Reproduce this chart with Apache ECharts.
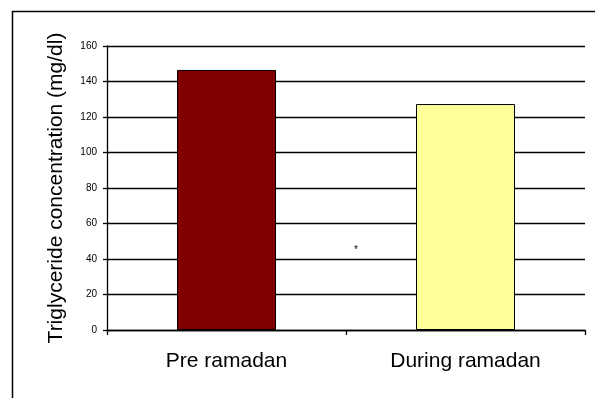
<!DOCTYPE html>
<html>
<head>
<meta charset="utf-8">
<script src="https://cdn.jsdelivr.net/npm/echarts@6/dist/echarts.min.js"></script>
<style>
  html, body { margin: 0; padding: 0; background: #fff; }
  #chart { width: 595px; height: 398px; }
</style>
</head>
<body>
<div id="chart"></div>
<script>
// Triglyceride concentration before and during Ramadan
const categories = ['Pre ramadan', 'During ramadan'];
const triglyceride = [146.5, 127.3];
const barColors = ['#800000', '#FFFF99'];
const yTicks = { min: 0, max: 160, interval: 20 };

const chart = echarts.init(document.getElementById('chart'));
const FONT = '"Liberation Sans", Arial, sans-serif';

chart.setOption({
  animation: false,
  backgroundColor: '#fff',
  grid: { left: 107, top: 46, right: 10, bottom: 68, containLabel: false },
  graphic: [
    {
      type: 'rect',
      shape: { x: 12.5, y: 11.5, width: 620, height: 420 },
      style: { fill: 'none', stroke: '#000', lineWidth: 1.5 },
      silent: true
    },
    {
      type: 'text',
      left: 354,
      top: 245,
      style: { text: '*', fontSize: 10, fontFamily: FONT, fill: '#000' },
      silent: true
    }
  ],
  xAxis: {
    type: 'category',
    data: categories,
    axisLine: { lineStyle: { color: '#000', width: 1.3 } },
    axisTick: { show: true, length: 5, lineStyle: { color: '#000', width: 1.3 } },
    axisLabel: { color: '#000', fontSize: 21, fontFamily: FONT, margin: 21 },
    splitLine: { show: false }
  },
  yAxis: {
    type: 'value',
    min: yTicks.min,
    max: yTicks.max,
    interval: yTicks.interval,
    name: 'Triglyceride concentration (mg/dl)',
    nameLocation: 'middle',
    nameGap: 40,
    nameTextStyle: { color: '#000', fontSize: 21, fontFamily: FONT },
    axisLine: { show: true, lineStyle: { color: '#000', width: 1.3 } },
    axisTick: { show: true, length: 4, lineStyle: { color: '#000', width: 1.3 } },
    axisLabel: { color: '#000', fontSize: 10, fontFamily: FONT, margin: 10 },
    splitLine: { show: true, lineStyle: { color: '#000', width: 1.3 } }
  },
  series: [{
    type: 'bar',
    barWidth: 99,
    data: triglyceride.map((v, i) => ({
      value: v,
      itemStyle: { color: barColors[i], borderColor: '#000', borderWidth: 1 }
    })),
    z: 3
  }]
});
</script>
</body>
</html>
